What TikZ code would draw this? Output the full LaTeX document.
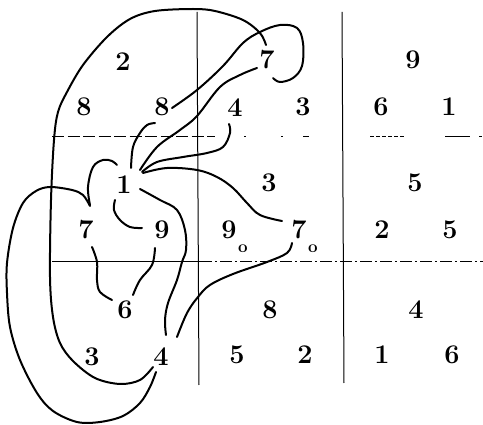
\documentclass[tikz,border=0pt]{standalone}
\usepackage{fontspec}
\setmainfont{Latin Modern Roman}
\begin{document}
\begin{tikzpicture}[x=1pt,y=-1pt,
  num/.style={font=\fontsize{27}{32}\selectfont\bfseries, inner sep=0pt},
  sub/.style={font=\fontsize{17}{20}\selectfont\bfseries, inner sep=0pt},
  curve/.style={line width=2pt, line cap=round, line join=round},
  grid/.style={line width=1pt},
  gdash/.style={line width=1pt, dash pattern=on 12pt off 3.5pt}]
\useasboundingbox (0,0) rectangle (483,425);
% grid lines
\draw[grid] (197,12) -- (199,385);
\draw[grid] (342,12) -- (344,383);
\draw[gdash] (52,137) -- (215,137);
\draw[grid] (244,137) -- (246,137) (281,137) -- (283,137) (303,137) -- (309,137);
\draw[grid, dash pattern=on 4pt off 2pt] (370,137) -- (405,137);
\draw[grid] (445,137) -- (470,137) (479,137) -- (482,137);
\draw[grid] (52,262) -- (200,262);
\draw[grid, dash pattern=on 12pt off 3pt on 2pt off 3pt] (200,262) -- (483,262);
% numbers
\node[num] (a2) at (123,62) {2};
\node[num] (a8) at (84,107) {8};
\node[num] (b8) at (162,107) {8};
\node[num] (c4) at (235,108) {4};
\node[num] (c7) at (267,60) {7};
\node[num] (c3) at (303,107) {3};
\node[num] (d9) at (413,60) {9};
\node[num] (d6) at (381,107) {6};
\node[num] (d1) at (449,107) {1};
\node[num] (e1) at (124,185) {1};
\node[num] (f3) at (269,183) {3};
\node[num] (g5) at (415,183) {5};
\node[num] (e7) at (86,230) {7};
\node[num] (e9) at (162,230) {9};
\node[num] (f9) at (229,230) {9};
\node[sub] (f9o) at (243,249) {o};
\node[num] (f7) at (299,230) {7};
\node[sub] (f7o) at (313,249) {o};
\node[num] (g2) at (382,230) {2};
\node[num] (g5b) at (450,230) {5};
\node[num] (h6) at (125,310) {6};
\node[num] (i8) at (270,310) {8};
\node[num] (j4) at (416,310) {4};
\node[num] (h3) at (92,357) {3};
\node[num] (h4) at (161,357) {4};
\node[num] (i5) at (237,355) {5};
\node[num] (i2) at (305,355) {2};
\node[num] (j1) at (382,355) {1};
\node[num] (j6) at (452,355) {6};
% curves
\draw[curve] plot[smooth, tension=0.55] coordinates {(153,367) (140,380) (120,384) (95,378) (73,361) (60,343) (53,317) (50,277) (51,200) (54,140) (58,112) (67,92) (83,65) (107,37) (130,19) (155,11) (193,9) (215,11) (243,20) (260,33) (266,45)};
\draw[curve] plot[smooth, tension=0.55] coordinates {(90,206) (83,195) (72,190) (50,187) (36,191) (23,203) (13,228) (7,263) (7,293) (10,327) (20,360) (37,393) (53,411) (77,422) (100,422) (123,416) (140,403) (150,387) (156,372)};
\draw[curve] plot[smooth, tension=0.6] coordinates {(90,205) (88,187) (93,167) (103,160) (112,161) (117,165)};
\draw[curve] plot[smooth, tension=0.6] coordinates {(131,168) (133,147) (140,133) (147,125) (155,123)};
\draw[curve] plot[smooth, tension=0.6] coordinates {(140,170) (157,147) (180,130) (197,116) (220,87) (240,75) (257,68)};
\draw[curve] plot[smooth, tension=0.6] coordinates {(172,108) (197,90) (223,66) (243,43) (260,32) (280,25) (297,28) (303,43) (302,66) (293,78) (280,82) (273,78)};
\draw[curve] plot[smooth, tension=0.6] coordinates {(142,172) (157,162) (183,157) (207,153) (223,147) (230,133) (229,124)};
\draw[curve] plot[smooth, tension=0.6] coordinates {(143,173) (167,168) (197,170) (217,177) (233,188) (247,203) (260,215) (282,221)};
\draw[curve] plot[smooth, tension=0.6] coordinates {(140,189) (160,200) (177,210) (185,230) (186,250) (182,262) (177,280) (168,303) (165,320) (166,335)};
\draw[curve] plot[smooth, tension=0.6] coordinates {(115,200) (114,210) (120,220) (130,227) (142,228)};
\draw[curve] plot[smooth, tension=0.6] coordinates {(92,247) (97,262) (97,280) (100,292) (112,300)};
\draw[curve] plot[smooth, tension=0.6] coordinates {(155,248) (152,265) (140,280) (133,295)};
\draw[curve] plot[smooth, tension=0.6] coordinates {(292,243) (287,253) (267,262) (233,274) (210,285) (198,297) (187,313) (177,337)};
\end{tikzpicture}
\end{document}
